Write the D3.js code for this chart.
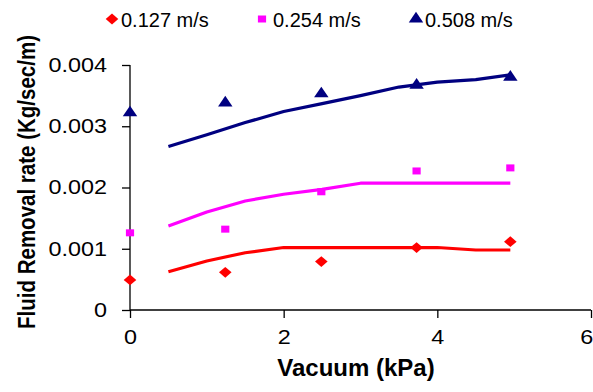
<!doctype html>
<html lang="en">
  <head>
    <meta charset="utf-8">
    <title>Fluid Removal rate</title>
    <style>
      body { margin: 0; background: #fff; }
      svg text { font-family: "Liberation Sans", Arial, sans-serif; fill: #000; }
    </style>
  </head>
  <body>
    <div class="container"></div>

    <script src="https://cdn.jsdelivr.net/npm/d3@7"></script>
    <script>

    // measured points (markers)
    var pointX = [0, 1.24, 2.49, 3.73, 4.95];
    var measured127 = [0.00049, 0.000615, 0.00079, 0.00102, 0.001115];
    var measured254 = [0.00126, 0.00132, 0.00193, 0.00227, 0.00232];
    var measured508 = [0.00322, 0.00338, 0.00353, 0.00367, 0.0038];

    // model curves (lines)
    var modelX = [0.5, 1, 1.5, 2, 2.5, 3, 3.5, 4, 4.5, 4.95];
    var model127 = [0.000625, 0.0008, 0.000935, 0.00102, 0.00102, 0.00102, 0.00102, 0.00102, 0.00098, 0.00098];
    var model254 = [0.00137, 0.0016, 0.00178, 0.00189, 0.00197, 0.00207, 0.00207, 0.00207, 0.00207, 0.00207];
    var model508 = [0.00267, 0.00286, 0.00306, 0.00324, 0.00337, 0.0035, 0.00364, 0.00372, 0.00376, 0.00384];

    var seriesNames = ["0.127 m/s", "0.254 m/s", "0.508 m/s"];
    var xTicks = [0, 2, 4, 6];
    var yTicks = [0, 0.001, 0.002, 0.003, 0.004];

    var colors = ["#ff0000", "#ff00ff", "#000080"];
    var stretch = 1.17;   // the original picture is wider than tall

    var svg = d3.select(".container")
        .append("svg")
        .attr("width", 593)
        .attr("height", 392);

    var x = d3.scaleLinear().domain([0, 6]).range([130, 591]);
    var y = d3.scaleLinear().domain([0, 0.004]).range([310, 65]);

    // diamond like excel's (square turned 45 degrees)
    var diamond = {
      draw: function(ctx, size) {
        var r = Math.sqrt(size / 2);
        ctx.moveTo(0, -r); ctx.lineTo(r, 0); ctx.lineTo(0, r); ctx.lineTo(-r, 0); ctx.closePath();
      }
    };
    var shapes = [d3.symbol(diamond, 58), d3.symbol(d3.symbolSquare, 49), d3.symbol(d3.symbolTriangle, 66)];

    // axes
    var xAxis = svg.append("g")
        .attr("transform", "translate(0,310)")
        .call(d3.axisBottom(x).tickValues(xTicks).tickSize(8).tickPadding(12).tickFormat(d3.format("d")));
    var yAxis = svg.append("g")
        .attr("transform", "translate(130,0)")
        .call(d3.axisLeft(y).tickValues(yTicks).tickSize(8).tickPadding(15)
          .tickFormat(function(d){ return d === 0 ? "0" : d3.format(".3f")(d); }));

    [xAxis, yAxis].forEach(function(g) {
      g.select(".domain").attr("stroke", "#000").attr("stroke-width", 1.3);
      g.selectAll(".tick line").attr("stroke", "#000").attr("stroke-width", 1.3);
      g.selectAll(".tick text").style("font-size", "20px").attr("fill", "#000");
    });
    // no outer tick stubs on the domain
    xAxis.select(".domain").attr("d", "M130,0H591");
    yAxis.select(".domain").attr("d", "M0,310V65");

    // widen the tick labels the way the reference is widened
    xAxis.selectAll(".tick text")
      .attr("dy", "0.71em")
      .attr("x", function(d){ return d === 6 ? -4 : 0; })
      .attr("transform", "scale(" + stretch + ",1)");
    yAxis.selectAll(".tick text")
      .attr("x", -23 / stretch)
      .attr("transform", "scale(" + stretch + ",1)");

    // lines
    var models = [model127, model254, model508];
    var line = d3.line()
        .x(function(d, i){ return x(modelX[i]); })
        .y(function(d){ return y(d); });

    svg.selectAll(".model")
      .data(models)
      .join("path")
      .attr("class", "model")
      .attr("d", line)
      .attr("fill", "none")
      .attr("stroke", function(d, i){ return colors[i]; })
      .attr("stroke-width", 3.2)
      .attr("stroke-linejoin", "round");

    // markers
    var measured = [measured127, measured254, measured508];
    measured.forEach(function(vals, s) {
      svg.append("g").selectAll("path")
        .data(vals)
        .join("path")
        .attr("d", shapes[s])
        .attr("transform", function(d, i){ return "translate(" + x(pointX[i]) + "," + y(d) + ") scale(" + stretch + ",1)"; })
        .attr("fill", colors[s]);
    });

    // legend
    var legendX = [112, 262, 416];
    var legend = svg.append("g").selectAll("g")
      .data(seriesNames)
      .join("g")
      .attr("transform", function(d, i){ return "translate(" + legendX[i] + ",19)"; });
    legend.append("path")
      .attr("d", function(d, i){ return shapes[i](); })
      .attr("transform", "scale(" + stretch + ",1)")
      .attr("fill", function(d, i){ return colors[i]; });
    legend.append("text")
      .attr("x", function(d, i){ return i === 1 ? 11 : 9; })
      .attr("y", 7.5)
      .style("font-size", "20px")
      .text(function(d){ return d; });

    // axis titles
    svg.append("text")
      .attr("x", 356)
      .attr("y", 376)
      .attr("text-anchor", "middle")
      .style("font-size", "24px")
      .style("font-weight", "bold")
      .text("Vacuum (kPa)");

    svg.append("text")
      .attr("transform", "translate(35,182) rotate(-90) scale(" + (1 / stretch) + ",1)")
      .attr("text-anchor", "middle")
      .style("font-size", "24px")
      .style("font-weight", "bold")
      .text("Fluid Removal rate (Kg/sec/m)");

    </script>
  </body>
</html>
